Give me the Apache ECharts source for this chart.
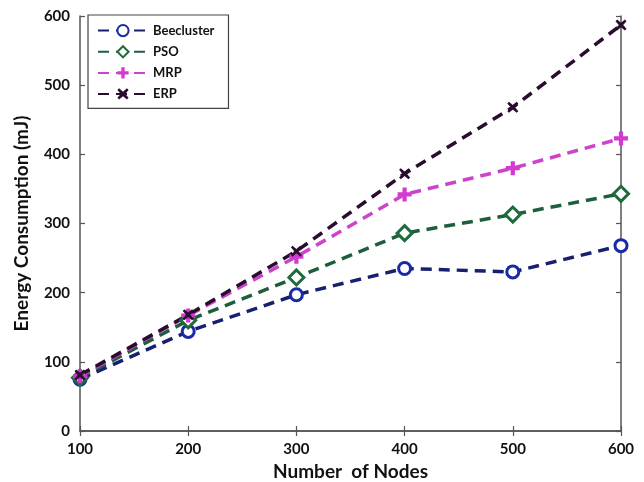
<!DOCTYPE html>
<html><head><meta charset="utf-8">
<script src="https://cdn.jsdelivr.net/npm/echarts@6/dist/echarts.min.js"></script>
<style>html,body{margin:0;padding:0;background:#fff}#c{width:644px;height:482px}</style>
</head><body><div id="c"></div>
<script>
const nodes = [100, 200, 300, 400, 500, 600];
const beecluster = [75, 144, 197, 235, 230, 268];
const pso = [77, 160, 222, 286, 313, 343];
const mrp = [79, 167, 252, 342, 380, 423];
const erp = [81, 168, 260, 372, 468, 587];
const yTicks = [0, 100, 200, 300, 400, 500, 600];

const font = 'Lato, "Open Sans", sans-serif';
const plusPath = 'path://M35,0 H65 V35 H100 V65 H65 V100 H35 V65 H0 V35 H35 Z';
const xPath = 'path://M15,0 L50,30 L85,0 L100,15 L70,50 L100,85 L85,100 L50,70 L15,100 L0,85 L30,50 L0,15 Z';

function mk(name, vals, lineColor, markColor, symbol, size, hollow) {
  return {
    name, type: 'line', data: nodes.map((x, i) => [x, vals[i]]),
    symbol, symbolSize: size, showAllSymbol: true,
    lineStyle: {color: lineColor, width: 3.5, type: [11, 7]},
    itemStyle: hollow ? {color: '#fff', borderColor: markColor, borderWidth: 3}
                      : {color: markColor, borderColor: markColor, borderWidth: 0},
    emphasis: {disabled: true}, z: 3
  };
}

const chart = echarts.init(document.getElementById('c'));
const axisLine = {show: true, lineStyle: {color: '#555', width: 1.5}};
const axisTick = {show: true, inside: true, length: 5, lineStyle: {color: '#555', width: 1.2}};
chart.setOption({
  animation: false,
  backgroundColor: '#fff',
  grid: {left: 80, right: 23, top: 16, bottom: 51, outerBoundsMode: 'none', containLabel: false},
  legend: {
    left: 88, top: 15, orient: 'vertical', itemGap: 8,
    backgroundColor: '#fff', borderColor: '#444', borderWidth: 1.2,
    padding: [9, 14, 8, 9], itemWidth: 50, itemHeight: 14,
    textStyle: {fontFamily: font, fontWeight: 'bold', fontSize: 13, color: '#111'},
    data: ['Beecluster', 'PSO', 'MRP', 'ERP']
  },
  xAxis: [{
    type: 'value', min: 100, max: 600, interval: 100,
    name: 'Number  of Nodes', nameLocation: 'middle', nameGap: 26,
    nameTextStyle: {fontFamily: font, fontWeight: 'bold', fontSize: 19, color: '#111'},
    axisLine, axisTick, splitLine: {show: false},
    axisLabel: {fontFamily: font, fontWeight: 'bold', fontSize: 15, color: '#111', margin: 11}
  }, {
    type: 'value', min: 100, max: 600, interval: 100, position: 'top',
    axisLine, axisTick, axisLabel: {show: false}, splitLine: {show: false}
  }],
  yAxis: [{
    type: 'value', min: 0, max: 600, interval: 100,
    name: 'Energy Consumption (mJ)', nameLocation: 'middle', nameGap: 49,
    nameTextStyle: {fontFamily: font, fontWeight: 'bold', fontSize: 19, color: '#111'},
    axisLine, axisTick, splitLine: {show: false},
    axisLabel: {fontFamily: font, fontWeight: 'bold', fontSize: 15, color: '#111', margin: 10,
      formatter: v => yTicks.includes(v) ? String(v) : ''}
  }, {
    type: 'value', min: 0, max: 600, interval: 100, position: 'right',
    axisLine, axisTick, axisLabel: {show: false}, splitLine: {show: false}
  }],
  series: [
    mk('Beecluster', beecluster, '#17206e', '#1a2aa6', 'circle', 12, true),
    mk('PSO', pso, '#1d5e3c', '#1f6b3c', 'diamond', 15, true),
    mk('MRP', mrp, '#cc44cc', '#d23ad2', plusPath, 14, false),
    mk('ERP', erp, '#2a0c2e', '#2a0c2e', xPath, 11, false)
  ]
});
</script></body></html>
